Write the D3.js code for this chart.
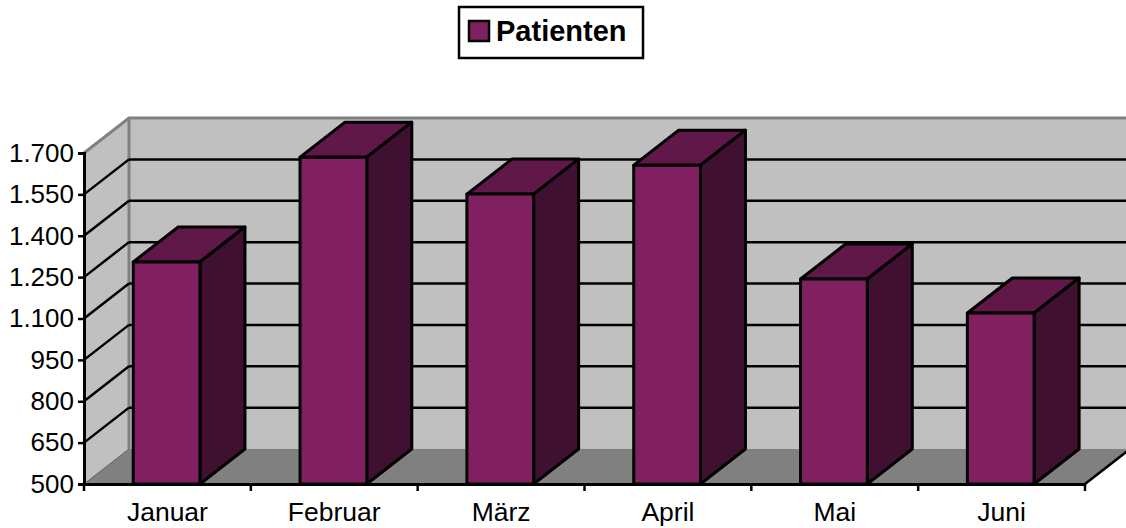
<!DOCTYPE html>
<html>
<script src='https://d3js.org/d3.v7.min.js'></script>
<style>
body {margin: 0; background: white;}
text {font-family: 'Liberation Sans', Arial, sans-serif; fill: black;}
</style>
<body>
<svg id='chartArea' width='1126' height='528'></svg>
<script>
var months = ['Januar', 'Februar', 'März', 'April', 'Mai', 'Juni'];
var patients = [1305, 1685, 1551, 1656, 1243, 1120];
var yTicks = [500, 650, 800, 950, 1100, 1250, 1400, 1550, 1700];
var seriesName = 'Patienten';

var svg = d3.select('#chartArea');

var x = d3.scaleBand().domain(months).range([84, 1085]);
var y = d3.scaleLinear().domain([500, 1700]).range([484, 153]);
var de = d3.formatLocale({decimal: ',', thousands: '.', grouping: [3], currency: ['', '€']});

// 3d offset of the back wall
var dx = 45, dy = -35;

var wall = '#c0c0c0', floor = '#808080';
var front = '#802060', top3d = '#601848', side = '#401030';

function pts(a) { return a.map(function(p) { return p.join(','); }).join(' '); }

// side wall
svg.append('polygon')
  .attr('points', pts([[x.range()[0], y(1700)], [x.range()[0] + dx, y(1700) + dy], [x.range()[0] + dx, y(500) + dy], [x.range()[0], y(500)]]))
  .style('fill', wall);

// back wall
svg.append('rect')
  .attr('x', x.range()[0] + dx).attr('y', y(1700) + dy)
  .attr('width', x.range()[1] - x.range()[0]).attr('height', y(500) - y(1700))
  .style('fill', wall);

// floor
svg.append('polygon')
  .attr('points', pts([[x.range()[0], y(500)], [x.range()[0] + dx, y(500) + dy], [x.range()[1] + dx, y(500) + dy], [x.range()[1], y(500)]]))
  .style('fill', floor);

// wall outline
svg.append('path')
  .attr('d', 'M' + x.range()[0] + ',' + y(1700) + 'L' + (x.range()[0] + dx) + ',' + (y(1700) + dy) + 'H' + (x.range()[1] + dx))
  .style('fill', 'none').style('stroke', floor).style('stroke-width', 3);
svg.append('line')
  .attr('x1', x.range()[0] + dx).attr('x2', x.range()[0] + dx)
  .attr('y1', y(1700) + dy).attr('y2', y(500) + dy)
  .style('stroke', floor).style('stroke-width', 3);
svg.append('line')
  .attr('x1', x.range()[0]).attr('x2', x.range()[0] + dx)
  .attr('y1', y(500)).attr('y2', y(500) + dy)
  .style('stroke', '#606060').style('stroke-width', 1);

// grid lines, side wall and back wall
var grid = yTicks.filter(function(d) { return d > 500 && d < 1700; });
svg.selectAll('.gridSide').data(grid).enter().append('line')
  .attr('class', 'gridSide')
  .attr('x1', x.range()[0]).attr('x2', x.range()[0] + dx)
  .attr('y1', function(d) { return y(d); }).attr('y2', function(d) { return y(d) + dy; })
  .style('stroke', 'black').style('stroke-width', 2.5);
svg.selectAll('.gridBack').data(grid).enter().append('line')
  .attr('class', 'gridBack')
  .attr('x1', x.range()[0] + dx).attr('x2', x.range()[1] + dx)
  .attr('y1', function(d) { return y(d) + dy; }).attr('y2', function(d) { return y(d) + dy; })
  .style('stroke', 'black').style('stroke-width', 2.5);

// right edge of the floor
svg.append('line')
  .attr('x1', x.range()[1]).attr('x2', x.range()[1] + dx)
  .attr('y1', y(500)).attr('y2', y(500) + dy)
  .style('stroke', 'black').style('stroke-width', 2.5);

// bars
var barX = function(d) { return x(d) + x.bandwidth() * 0.295; };
var barW = x.bandwidth() * 0.4;

var bars = svg.selectAll('.bar')
  .data(months.map(function(m, i) { return {month: m, value: patients[i]}; }))
  .enter().append('g').attr('class', 'bar')
  .style('stroke', 'black').style('stroke-width', 3).style('stroke-linejoin', 'round');

bars.append('polygon')
  .attr('points', function(d) {
    var l = barX(d.month), r = l + barW, t = y(d.value);
    return pts([[l, t], [l + dx, t + dy], [r + dx, t + dy], [r, t]]);
  })
  .style('fill', top3d);
bars.append('polygon')
  .attr('points', function(d) {
    var r = barX(d.month) + barW, t = y(d.value), b = y(500);
    return pts([[r, t], [r + dx, t + dy], [r + dx, b + dy], [r, b]]);
  })
  .style('fill', side);
bars.append('rect')
  .attr('x', function(d) { return barX(d.month); })
  .attr('y', function(d) { return y(d.value); })
  .attr('width', barW)
  .attr('height', function(d) { return y(500) - y(d.value); })
  .style('fill', front);

// axes
var yAxis = svg.append('g')
  .attr('transform', 'translate(' + x.range()[0] + ',0)')
  .call(d3.axisLeft(y).tickValues(yTicks).tickFormat(de.format(',')).tickSize(6).tickPadding(4));
yAxis.selectAll('text').style('font-size', '26px');
yAxis.selectAll('line').style('stroke-width', 2.5);
yAxis.select('.domain').style('stroke-width', 3);

var xAxis = svg.append('g')
  .attr('transform', 'translate(0,' + y(500) + ')')
  .call(d3.axisBottom(x).tickSize(0).tickPadding(18));
xAxis.selectAll('text').style('font-size', '26.5px');
xAxis.select('.domain').style('stroke-width', 3);

// ticks sit between the categories
var edges = months.map(function(m) { return x(m); }).concat([x.range()[1]]);
xAxis.selectAll('.edge').data(edges).enter().append('line')
  .attr('class', 'edge')
  .attr('x1', function(d) { return d; }).attr('x2', function(d) { return d; })
  .attr('y1', 0).attr('y2', 7)
  .style('stroke', 'black').style('stroke-width', 2.5);

// legend
var legend = svg.append('g');
legend.append('rect')
  .attr('x', 459).attr('y', 7).attr('width', 184).attr('height', 51)
  .style('fill', 'white').style('stroke', 'black').style('stroke-width', 2.5);
legend.append('rect')
  .attr('x', 469).attr('y', 21).attr('width', 20).attr('height', 20)
  .style('fill', front).style('stroke', 'black').style('stroke-width', 2.5);
legend.append('text')
  .attr('x', 496).attr('y', 41)
  .style('font-size', '29px').style('font-weight', 'bold')
  .text(seriesName);
</script>
</body>
</html>
